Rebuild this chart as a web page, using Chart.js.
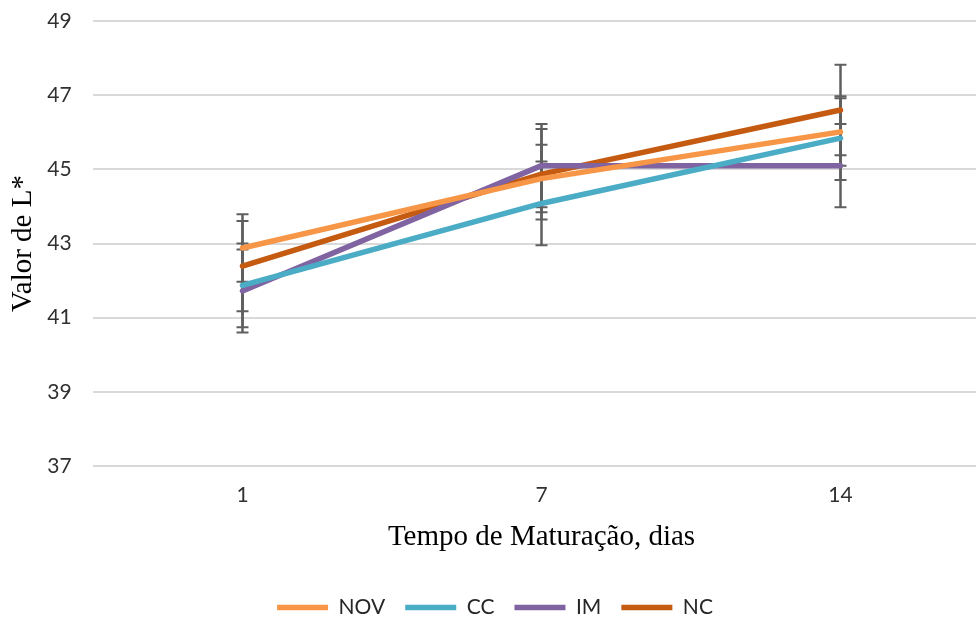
<!DOCTYPE html>
<html>
<head>
<meta charset="utf-8">
<script src="https://cdn.jsdelivr.net/npm/chart.js@4/dist/chart.umd.min.js"></script>
<style>
  html, body { margin: 0; padding: 0; background: #ffffff; overflow: hidden; width: 976px; height: 619px; }
  canvas { display: block; }
</style>
</head>
<body>
<canvas id="chart" width="1000" height="628"></canvas>
<script>
// Maturation time (days)
const days = ['1', '7', '14'];

// Mean L* value per group
const nov = [42.88, 44.75, 46.01];
const cc  = [41.87, 44.08, 45.84];
const im  = [41.72, 45.10, 45.10];
const nc  = [42.39, 44.87, 46.60];

// Error (± half-range) per point
const novErr = [0.91, 0.91, 0.91];
const ccErr  = [1.13, 1.13, 1.13];
const imErr  = [1.12, 1.12, 1.12];
const ncErr  = [1.22, 1.22, 1.22];

const yMin = 37, yMax = 49, yStep = 2;

const sansFont = 'Lato, "Open Sans", "Liberation Sans", sans-serif';
const serifFont = '"Liberation Serif", "DejaVu Serif", serif';

function series(label, data, errors, color) {
  return {
    label, data, errors,
    borderColor: color,
    backgroundColor: color,
    borderWidth: 5.5,
    borderCapStyle: 'round',
    borderJoinStyle: 'round',
    pointRadius: 0,
    pointHoverRadius: 0,
    tension: 0,
    fill: false
  };
}

// Vertical error bars with caps, drawn beneath the lines
const errorBars = {
  id: 'errorBars',
  beforeDatasetsDraw(chart) {
    const { ctx, scales: { y } } = chart;
    ctx.save();
    ctx.strokeStyle = '#5f5f5f';
    ctx.lineCap = 'butt';
    chart.data.datasets.forEach((ds, i) => {
      const meta = chart.getDatasetMeta(i);
      meta.data.forEach((pt, j) => {
        const v = ds.data[j], e = ds.errors[j];
        const yt = y.getPixelForValue(v + e);
        const yb = y.getPixelForValue(v - e);
        const x = pt.x;
        ctx.lineWidth = 2.5;
        ctx.beginPath();
        ctx.moveTo(x, yt); ctx.lineTo(x, yb);
        ctx.stroke();
        ctx.lineWidth = 2;
        ctx.beginPath();
        ctx.moveTo(x - 6, yt); ctx.lineTo(x + 6, yt);
        ctx.moveTo(x - 6, yb); ctx.lineTo(x + 6, yb);
        ctx.stroke();
      });
    });
    ctx.restore();
  }
};

new Chart(document.getElementById('chart'), {
  type: 'line',
  data: {
    labels: days,
    datasets: [
      series('NOV', nov, novErr, '#F79646'),
      series('CC',  cc,  ccErr,  '#4BACC6'),
      series('IM',  im,  imErr,  '#8064A2'),
      series('NC',  nc,  ncErr,  '#C55A11')
    ]
  },
  options: {
    responsive: false,
    animation: false,
    devicePixelRatio: 1,
    layout: { padding: { top: 0, right: 10, bottom: 0, left: 0 } },
    plugins: {
      tooltip: { enabled: false },
      legend: {
        position: 'bottom',
        labels: {
          usePointStyle: true,
          pointStyle: 'line',
          pointStyleWidth: 51,
          padding: 20,
          color: '#262626',
          font: { family: sansFont, size: 21 }
        }
      }
    },
    scales: {
      x: {
        type: 'category',
        offset: true,
        grid: { display: false, drawTicks: false },
        border: { display: false },
        ticks: { color: '#303030', padding: 17, font: { family: sansFont, size: 21 } },
        title: {
          display: true,
          text: 'Tempo de Maturação, dias',
          color: '#000000',
          padding: { top: 0, bottom: 22.6 },
          font: { family: serifFont, size: 29 }
        },
        afterFit(scale) { scale.height = 111; }
      },
      y: {
        min: yMin,
        max: yMax,
        grid: {
          color: '#d9d9d9',
          lineWidth: 2,
          drawTicks: true,
          tickLength: 13,
          tickColor: 'rgba(0,0,0,0)'
        },
        border: { display: false },
        ticks: {
          stepSize: yStep,
          color: '#303030',
          padding: 8.4,
          font: { family: sansFont, size: 21 }
        },
        title: {
          display: true,
          text: 'Valor de L*',
          color: '#000000',
          padding: { top: 5.6, bottom: 0 },
          font: { family: serifFont, size: 29 }
        },
        afterFit(scale) { scale.width = 93; }
      }
    }
  },
  plugins: [errorBars]
});
</script>
</body>
</html>
